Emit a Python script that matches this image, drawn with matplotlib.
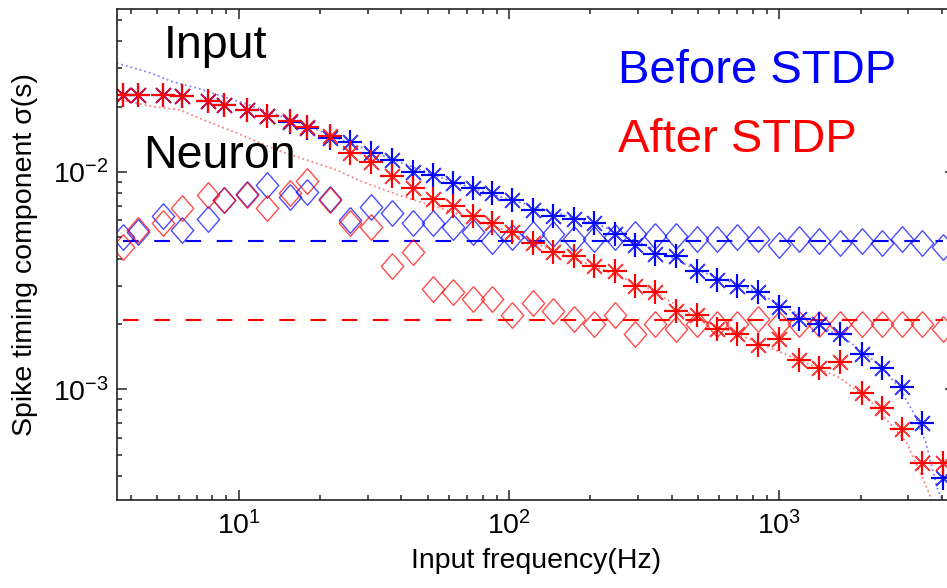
import matplotlib
matplotlib.use("Agg")
import matplotlib.pyplot as plt
from matplotlib.ticker import LogLocator, NullFormatter

plt.rcParams['font.family'] = ['Liberation Sans', 'DejaVu Sans']
plt.rcParams['mathtext.default'] = 'regular'

# 入力周波数 (Hz)
freq = [3.75, 4.25, 5.25, 6.15, 7.7, 8.8, 10.7, 12.7, 15.5, 17.9,
        21.8, 25.8, 31.0, 36.8, 44.0, 52.3, 62.0, 73.6, 86.3, 103,
        123, 146, 174, 206, 247, 293, 347, 417, 495, 587,
        696, 836, 1000, 1186, 1406, 1677, 2018, 2392, 2837, 3364, 4044]

# Input (*)
input_before = [0.0226, 0.0226, 0.0226, 0.0224, 0.0211, 0.0203, 0.0193, 0.0180, 0.0170, 0.0159,
                0.0143, 0.0138, 0.0122, 0.0114, 0.0100, 0.0097, 0.0089, 0.0084, 0.0080, 0.0074,
                0.0067, 0.0063, 0.0061, 0.0058, 0.0052, 0.0046, 0.0042, 0.0041, 0.0035, 0.0032,
                0.0030, 0.0028, 0.0024, 0.0021, 0.0020, 0.0018, 0.00146, 0.00125, 0.00103, 0.00070, 0.00039]
input_after = [0.0226, 0.0226, 0.0226, 0.0224, 0.0211, 0.0203, 0.0193, 0.0180, 0.0172, 0.0161,
               0.0147, 0.0122, 0.0111, 0.0096, 0.0084, 0.0075, 0.0070, 0.0063, 0.0058, 0.0053,
               0.0047, 0.0043, 0.0041, 0.0037, 0.0035, 0.0030, 0.0028, 0.0023, 0.0022, 0.0019,
               0.0018, 0.0016, 0.0017, 0.00136, 0.00125, 0.00134, 0.00096, 0.00082, 0.00066, 0.00046, 0.00046]

# Neuron (◇)
neuron_before = [0.0050, 0.0053, 0.0063, 0.0054, 0.0061, 0.0074, 0.0079, 0.0087, 0.0077, 0.0081,
                 0.0075, 0.0060, 0.0069, 0.0065, 0.0058, 0.0058, 0.0056, 0.0053, 0.0048, 0.0050,
                 0.0052, 0.0052, 0.0049, 0.0049, 0.0050, 0.0052, 0.0051, 0.0051, 0.0049, 0.0049,
                 0.0050, 0.0049, 0.0046, 0.0049, 0.0048, 0.0047, 0.0048, 0.0047, 0.0049, 0.0047, 0.0045]
neuron_after = [0.0045, 0.0054, 0.0058, 0.0068, 0.0078, 0.0074, 0.0078, 0.0068, 0.0080, 0.0091,
                0.0074, 0.0058, 0.0056, 0.0037, 0.0043, 0.0029, 0.0028, 0.0026, 0.0026, 0.0022,
                0.0025, 0.0023, 0.0021, 0.0020, 0.0022, 0.0018, 0.0020, 0.0019, 0.0020, 0.0020,
                0.0020, 0.0021, 0.0020, 0.0020, 0.0020, 0.0020, 0.0020, 0.0020, 0.0020, 0.0020, 0.0019]

# 破線 (Neuron の基準レベル)
base_before = 4.83e-3
base_after = 2.08e-3

# 点線 (理論曲線)
theory_f_before = [3.54, 4.70, 5.71, 7.19, 11.0, 16.9, 25.8, 39.5, 60.5, 92.6, 142, 217,
                   332, 509, 779, 1193, 1826, 2358, 2796, 3177, 3489, 3832, 4400]
theory_before = [0.0317, 0.0286, 0.0260, 0.0241, 0.0203, 0.0168, 0.0136, 0.0111, 0.0091, 0.0077,
                 0.0066, 0.0057, 0.0045, 0.0035, 0.0029, 0.0022, 0.00165, 0.00129, 0.00101,
                 0.00076, 0.00057, 0.000355, 0.00024]
theory_f_after = [3.54, 4.70, 6.06, 7.38, 9.86, 13.9, 23.1, 28.8, 39.5, 60.5, 92.6, 142,
                  217, 332, 509, 779, 1193, 1677, 2165, 2960, 3459, 3673]
theory_after = [0.0217, 0.0201, 0.0193, 0.0174, 0.0151, 0.0126, 0.0102, 0.0090, 0.0078, 0.0066,
                0.0055, 0.0044, 0.0036, 0.0029, 0.0021, 0.0017, 0.00136, 0.00113, 0.00089,
                0.00057, 0.00037, 0.00031]

blue = (0, 0, 1)
red = (1, 0, 0)
plus = (4, 2, 0)
cross = (4, 2, 45)
diamond = [(0, 1), (0.87, 0), (0, -1), (-0.87, 0), (0, 1)]

fig = plt.figure(figsize=(9.47, 5.88), dpi=100)
ax = fig.add_axes([0.1232, 0.1497, 0.8852, 0.835])

ax.plot(theory_f_before, theory_before, ':', color=blue, lw=1.3, alpha=0.5)
ax.plot(theory_f_after, theory_after, ':', color=red, lw=1.3, alpha=0.5)

ax.hlines(base_before, freq[0], freq[-1], colors=[blue], lw=1.5, linestyles=[(0, (7.5, 7.5))])
ax.hlines(base_after, freq[0], freq[-1], colors=[red], lw=1.5, linestyles=[(0, (7.5, 7.5))])

ax.plot(freq, neuron_before, ls='none', marker=diamond, ms=18.5, mfc='none',
        mec=blue, mew=1.0, alpha=0.7)
ax.plot(freq, neuron_after, ls='none', marker=diamond, ms=18.5, mfc='none',
        mec=red, mew=1.0, alpha=0.7)

# アスタリスク: 太い "+" と少し薄い "x" の重ね合わせ
for vals, col in [(input_before, blue), (input_after, red)]:
    ax.plot(freq, vals, ls='none', marker=cross, ms=15, mec=col, mew=1.2, alpha=0.75)
    ax.plot(freq, vals, ls='none', marker=plus, ms=17.5, mec=col, mew=1.5)

ax.set_xscale('log')
ax.set_yscale('log')
ax.set_xlim(3.54, 4470)
ax.set_ylim(3.1e-4, 0.0562)

ax.xaxis.set_major_locator(LogLocator(base=10))
ax.xaxis.set_minor_locator(LogLocator(base=10, subs=range(2, 10)))
ax.yaxis.set_minor_locator(LogLocator(base=10, subs=range(2, 10)))
ax.xaxis.set_minor_formatter(NullFormatter())
ax.yaxis.set_minor_formatter(NullFormatter())

ax.tick_params(which='both', direction='in', top=True, right=True,
               width=1.1, color='#222222', labelsize=20.5)
ax.tick_params(which='major', length=7.5)
ax.tick_params(which='minor', length=3.8)
ax.tick_params(axis='x', pad=8)
ax.tick_params(axis='y', pad=6)
for s in ax.spines.values():
    s.set_linewidth(1.2)
    s.set_color('#222222')

ax.set_xlabel('Input frequency(Hz)', fontsize=20.5)
ax.set_ylabel('Spike timing component σ(s)', fontsize=20.5)
ax.xaxis.set_label_coords(0.5, -0.097)
ax.yaxis.set_label_coords(-0.094, 0.5)

ax.text(0.0556, 0.8996, 'Input', transform=ax.transAxes, fontsize=33.5, va='baseline')
ax.text(0.0317, 0.6756, 'Neuron', transform=ax.transAxes, fontsize=33.5, va='baseline')
ax.text(0.5976, 0.8487, 'Before STDP', transform=ax.transAxes, fontsize=34,
        va='baseline', color=blue)
ax.text(0.5976, 0.7094, 'After STDP', transform=ax.transAxes, fontsize=34,
        va='baseline', color=red)

fig.savefig('out.png', dpi=100)
